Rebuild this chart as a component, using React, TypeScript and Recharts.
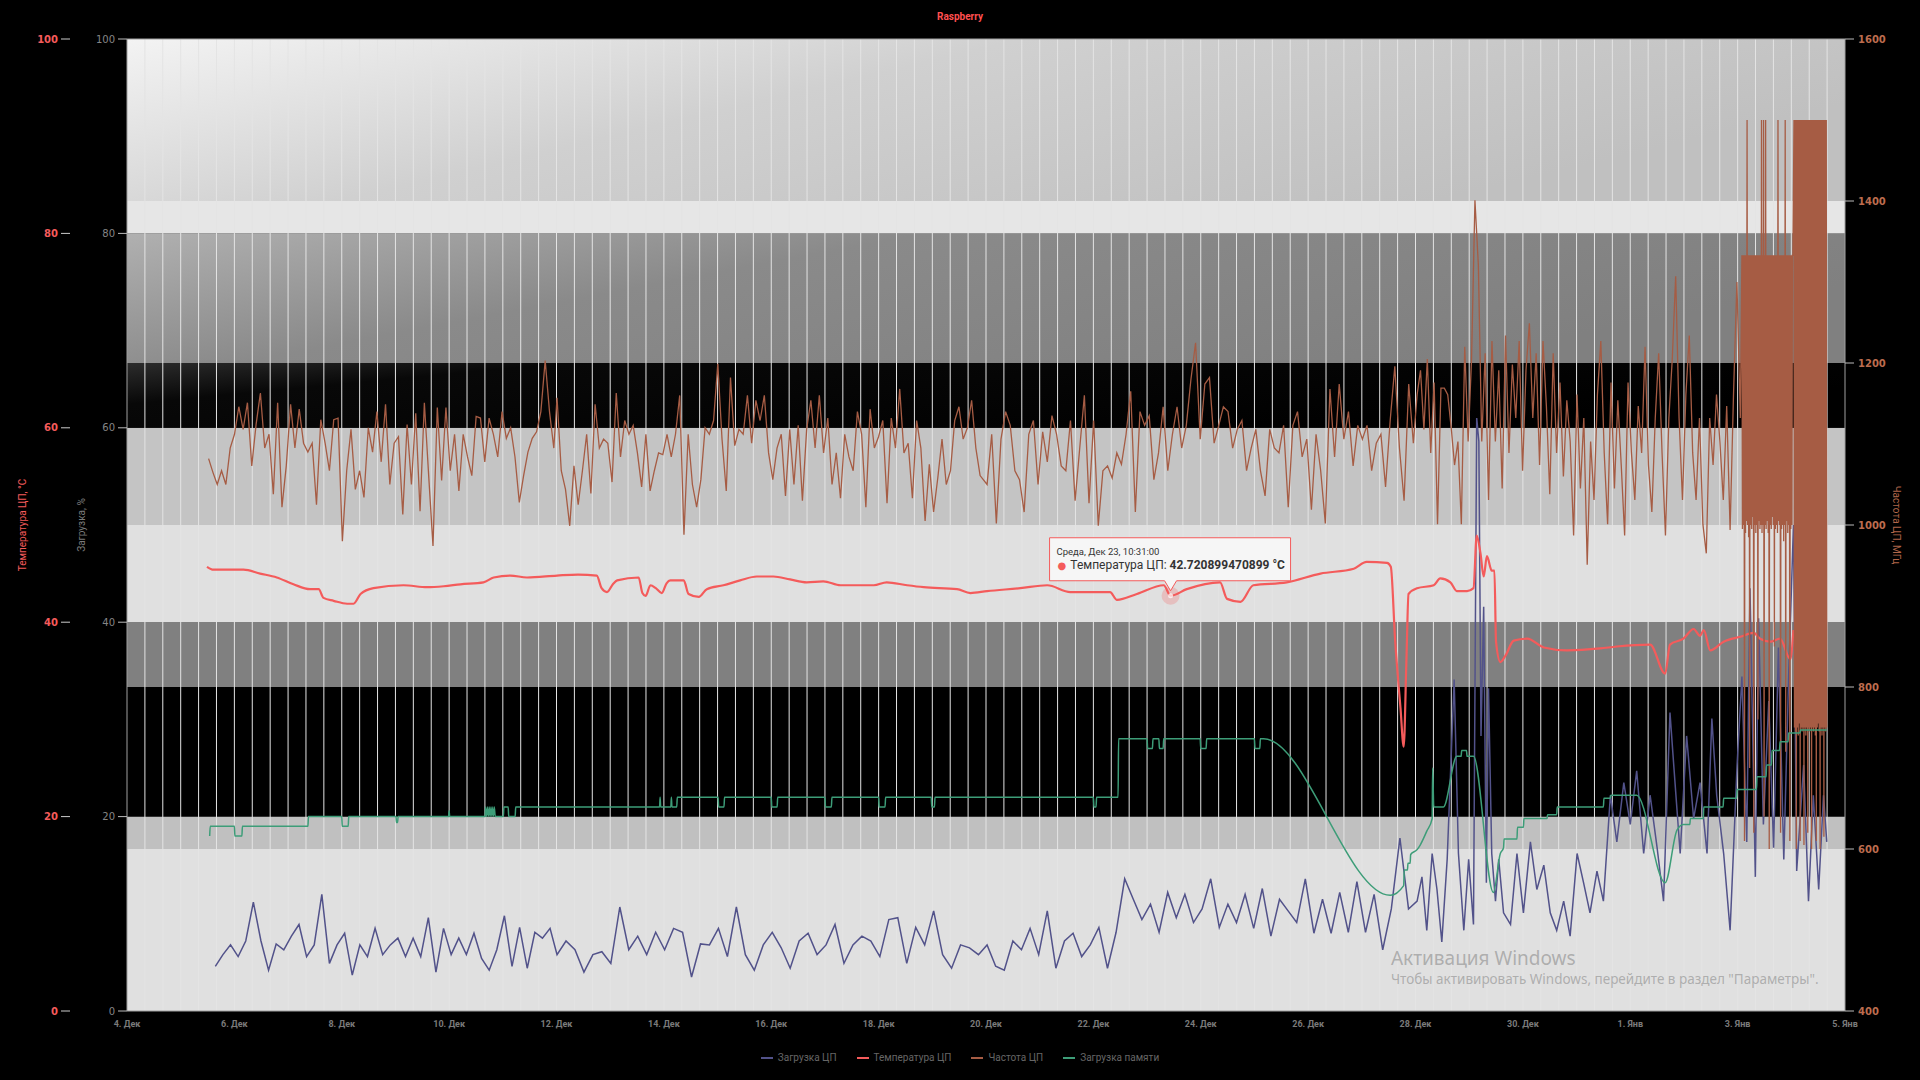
import React from "react";
import {
  Legend,
  Line,
  LineChart,
  ReferenceArea,
  ReferenceDot,
  ReferenceLine,
  XAxis,
  YAxis,
} from "recharts";

// x = days since 4 Dec 00:00
const X_TICKS = [0, 2, 4, 6, 8, 10, 12, 14, 16, 18, 20, 22, 24, 26, 28, 30, 32];
const X_LABELS = [
  "4. Дек", "6. Дек", "8. Дек", "10. Дек", "12. Дек", "14. Дек", "16. Дек", "18. Дек", "20. Дек",
  "22. Дек", "24. Дек", "26. Дек", "28. Дек", "30. Дек", "1. Янв", "3. Янв", "5. Янв",
];
const PCT_TICKS = [0, 20, 40, 60, 80, 100];
const MHZ_TICKS = [400, 600, 800, 1000, 1200, 1400, 1600];
// minor vertical grid every 8 hours
const GRID_TICKS = Array.from({ length: 95 }, (_, i) => (i + 1) / 3);

const SERIES_NAMES = ["Загрузка ЦП", "Температура ЦП", "Частота ЦП", "Загрузка памяти"];

// CPU load, % (evenly sampled segments + last chaotic part as [day, value])
const LOAD_1 = [4.6, 5.8, 6.8, 5.6, 7.2, 11.2, 7.2, 4.2, 6.9, 6.3, 7.7, 8.9, 5.6, 6.8, 12.0, 4.9, 6.8, 8.0, 3.7, 6.8, 5.6, 8.5, 5.8, 6.8, 7.5, 5.6, 7.5, 5.6, 9.6, 4.0, 8.5, 5.8, 7.5, 5.8, 8.0, 5.4, 4.2, 6.3, 9.8, 4.6, 8.6, 4.4, 8.1, 7.5, 8.5];
const LOAD_2 = [5.8, 7.2, 6.3, 4.0, 5.8, 6.1, 4.9, 10.7, 6.3, 7.7, 5.8, 8.1, 6.3, 8.5, 8.1, 3.5, 6.9, 6.8, 8.5, 5.6, 10.7, 5.8, 4.2, 6.8, 8.1, 6.5, 4.4, 7.2, 8.0, 5.8, 6.8, 8.9, 4.9, 6.8, 7.7, 7.2, 5.6, 9.4, 9.6, 4.9, 8.6, 6.8, 10.3, 5.8, 4.4, 6.8, 6.5, 5.8];
const LOAD_3 = [6.8, 4.6, 4.2, 7.2, 6.3, 8.5, 5.8, 10.3, 4.4, 7.2, 8.0, 5.6, 6.8, 8.6, 4.4, 8.1, 13.6, 11.5, 9.4, 11.0, 8.1, 12.2, 9.6, 12.0, 9.1, 10.5, 13.6, 8.6, 11.0, 9.1, 12.0, 8.5, 12.6, 7.7, 11.5, 10.3, 9.1, 13.6, 8.0, 11.5, 8.0, 12.2, 8.1, 13.3, 8.1, 12.0, 6.3, 10.5, 17.8, 10.5];
const LOAD_4 = [
  [24.03, 11.3], [24.12, 13.8], [24.21, 8.3], [24.31, 16.2], [24.4, 12.5], [24.49, 7.1], [24.59, 15.6], [24.72, 34.1],
  [24.8, 16.2], [24.9, 8.3], [24.99, 15.6], [25.08, 8.9], [25.14, 61], [25.18, 58.6], [25.22, 28.3], [25.27, 41.6],
  [25.32, 13.2], [25.36, 33.2], [25.42, 16.2], [25.49, 11.3], [25.55, 15.6], [25.64, 10.1], [25.77, 8.9], [25.89, 16.2],
  [26.01, 10.1], [26.14, 17.4], [26.26, 12.5], [26.39, 15.0], [26.51, 10.1], [26.63, 8.3], [26.76, 11.3], [26.88, 7.7],
  [27.01, 16.2], [27.13, 13.2], [27.25, 10.1], [27.38, 14.4], [27.5, 11.3], [27.63, 22.2], [27.75, 17.4], [27.88, 23.5],
  [28.0, 19.2], [28.12, 24.7], [28.25, 16.2], [28.37, 22.2], [28.5, 16.8], [28.62, 11.3], [28.74, 30.7], [28.81, 25.3],
  [28.93, 16.2], [29.05, 28.3], [29.18, 19.8], [29.3, 23.5], [29.43, 16.2], [29.52, 30.1], [29.61, 22.2], [29.74, 16.2],
  [29.86, 8.3], [29.99, 25.3], [30.08, 34.4], [30.17, 17.4], [30.23, 43.5], [30.33, 13.8], [30.39, 40.4], [30.48, 19.2],
  [30.58, 31.9], [30.67, 16.8], [30.76, 37.4], [30.86, 15.6], [30.95, 34.4], [31.04, 50.0], [31.1, 14.4], [31.23, 25.3],
  [31.32, 11.3], [31.41, 22.2], [31.51, 12.5], [31.6, 22.2], [31.66, 17.4],
];

// CPU temperature, °C
const TEMP = [
  [1.49, 45.7], [1.61, 45.4], [2.17, 45.4], [2.48, 45.0], [2.79, 44.6], [3.1, 43.9], [3.41, 43.4], [3.57, 43.4],
  [3.66, 42.5], [3.85, 42.2], [4.1, 41.9], [4.22, 41.9], [4.35, 42.9], [4.59, 43.5], [5.15, 43.8], [5.59, 43.6],
  [5.9, 43.7], [6.21, 43.9], [6.64, 44.1], [6.83, 44.6], [7.14, 44.8], [7.45, 44.6], [8.01, 44.8], [8.4, 44.9],
  [8.75, 44.8], [8.84, 43.5], [8.94, 43.1], [9.05, 43.9], [9.13, 44.3], [9.53, 44.6], [9.6, 43.0], [9.66, 42.7],
  [9.75, 43.8], [9.85, 43.5], [9.96, 43.0], [10.05, 44.0], [10.12, 44.3], [10.37, 44.3], [10.46, 42.9], [10.65, 42.6],
  [10.8, 43.4], [11.11, 43.8], [11.42, 44.3], [11.73, 44.7], [12.04, 44.7], [12.35, 44.4], [12.66, 44.1], [12.97, 44.2],
  [13.29, 43.8], [13.91, 43.8], [14.15, 44.1], [14.53, 43.8], [14.84, 43.6], [15.46, 43.4], [15.71, 43.0], [16.02, 43.2],
  [16.64, 43.5], [17.14, 43.8], [17.57, 43.1], [18.31, 43.1], [18.44, 42.3], [18.81, 42.9], [19.31, 43.8], [19.438, 42.72],
  [19.74, 43.4], [20.36, 44.1], [20.49, 42.4], [20.74, 42.1], [20.98, 43.8], [21.6, 44.1], [22.23, 45.0], [22.85, 45.5],
  [23.09, 46.2], [23.47, 46.1], [23.54, 45.7], [23.62, 38.2], [23.72, 31.2], [23.78, 27.2], [23.83, 35.9], [23.87, 42.9],
  [24.03, 43.5], [24.34, 43.8], [24.46, 44.5], [24.65, 44.1], [24.77, 43.2], [24.96, 43.2], [25.08, 43.5], [25.14, 48.9],
  [25.21, 47.1], [25.27, 44.7], [25.33, 46.8], [25.42, 45.3], [25.47, 45.3], [25.5, 38.0], [25.58, 35.9], [25.67, 36.5],
  [25.83, 38.1], [26.08, 38.3], [26.39, 37.4], [26.82, 37.1], [27.44, 37.3], [27.75, 37.5], [28.37, 37.7], [28.65, 34.7],
  [28.74, 37.7], [28.99, 38.3], [29.18, 39.3], [29.3, 38.6], [29.37, 39.2], [29.49, 37.1], [29.74, 38.0], [30.05, 38.5],
  [30.3, 38.9], [30.42, 38.3], [30.61, 38.0], [30.79, 38.3], [30.98, 36.2], [31.04, 39.2],
];

// CPU frequency, MHz
const FREQ_1 = [1082, 1065, 1050, 1067, 1050, 1095, 1112, 1146, 1118, 1151, 1073, 1124, 1163, 1095, 1112, 1038, 1151, 1022, 1073, 1149, 1095, 1143, 1101, 1090, 1101, 1025, 1130, 1101, 1067, 1130, 1132, 980, 1067, 1118, 1044, 1067, 1034, 1120, 1090, 1140, 1078, 1149, 1050, 1101, 1109, 1013, 1124, 1050, 1138, 1017, 1151, 1061, 974, 1145, 1055, 1145, 1067, 1112, 1042, 1112, 1084, 1061, 1134, 1132, 1078, 1132, 1112, 1084, 1140, 1107, 1120, 1084, 1028, 1061, 1090, 1107, 1115, 1140, 1203, 1140, 1095];
const FREQ_2 = [1157, 1067, 1044, 999, 1073, 1025, 1067, 1112, 1039, 1149, 1095, 1106, 1101, 1053, 1163, 1084, 1129, 1112, 1123, 1089, 1047, 1112, 1042, 1067, 1089, 1087, 1112, 1084, 1112, 1160, 988, 1112, 1050, 1022, 1056, 1120, 1112, 1129, 1199, 1106, 1042, 1182, 1098, 1118, 1112, 1160, 1101, 1154, 1129, 1160, 1089, 1056, 1095, 1112, 1036, 1118, 1050, 1123, 1030, 1118, 1154, 1095, 1160, 1089, 1132, 1050, 1089, 1033, 1112, 1084, 1067, 1140, 1112, 1022, 1143, 1095, 1109, 1129, 1027, 1132, 1095, 1168, 1089, 1101, 1033, 1129, 1095, 1005, 1075, 1016, 1058, 1106, 1050, 1067, 1129, 1146, 1106, 1120, 1154, 1095, 1061];
const FREQ_3 = [1050, 1112, 1002, 1106, 1140, 1123, 1067, 1056, 1016, 1112, 1129, 1050, 1115, 1078, 1135, 1112, 1073, 1067, 1129, 1030, 1095, 1160, 1027, 1129, 999, 1067, 1073, 1058, 1089, 1075, 1112, 1165, 1016, 1140, 1123, 1135, 1056, 1089, 1146, 1067, 1112, 1146, 1095, 1123, 1180, 1225, 1106, 1174, 1182, 1101, 1123, 1146, 1140, 1095, 1118, 1129, 1067, 1095, 1118, 1067, 1036, 1118, 1095, 1089, 1123, 1022, 1123, 1140, 1084, 1106, 1019, 1112, 1067, 1002, 1168, 1084, 1174, 1106, 1140, 1073, 1123, 1106, 1123, 1067, 1101, 1112, 1047, 1129, 1196, 1095, 1030, 1174, 1101];
const FREQ_4 = [1161, 1191, 1118, 1205, 1089, 1176, 1001, 1169, 1169, 1161, 1121, 1074, 1103, 1001, 1220, 1103, 1205, 1401, 1321, 1103, 1212, 1031, 1227, 1103, 1191, 1045, 1234, 1089, 1198, 1132, 1227, 1067, 1191, 1249, 1132, 1212, 1074, 1227, 1147, 1038, 1212, 1089, 1176, 1060, 1154, 1103, 987, 1161, 1045, 1132, 951, 1103, 1031, 1161, 1227, 1089, 1001, 1176, 1045, 1154, 1074, 987, 1176, 1089, 1031, 1147, 1089, 1220, 1074, 1016, 1132, 1212, 1089, 987, 1132, 1205, 1307, 1132, 1031, 1161, 1234, 1089, 1031, 1132, 1001, 965, 1132, 1074, 1161, 1103, 1031, 1147, 994, 1161, 1300, 1132];
const FREQ_5 = [
  1333, 995, 1333, 1000, 1333, 610, 1333, 990, 1333, 1005, 1500, 1000, 1333, 985, 1333, 700, 1333, 1000, 1333, 995,
  1333, 1010, 1333, 620, 1333, 1000, 1333, 990, 1333, 1000, 1333, 760, 1333, 1005, 1333, 995, 1333, 1000, 1500, 990,
  1333, 1000, 1500, 640, 1333, 1000, 1500, 995, 1333, 1005, 1333, 990, 1333, 600, 1333, 1000, 1333, 995, 1333, 1010,
  1333, 1000, 1333, 850, 1333, 995, 1333, 1000, 1333, 990, 1500, 1005, 1333, 1000, 1333, 620, 1333, 995, 1333, 1000,
  1333, 980, 1333, 1000, 1500, 720, 1333, 1005, 1333, 990, 1333, 1000, 1333, 610, 1333, 995, 1333, 1000, 1333, 1333,
];
const FREQ_6 = [
  1500, 750, 1500, 745, 1500, 600, 1500, 750, 1500, 740, 1500, 755, 1500, 610, 1500, 750, 1500, 745, 1500, 750,
  1500, 605, 1500, 750, 1500, 740, 1500, 750, 1500, 620, 1500, 750, 1500, 745, 1500, 750, 1500, 600, 1500, 750,
  1500, 745, 1500, 750, 1500, 740, 1500, 610, 1500, 750, 1500, 755, 1500, 745, 1500, 600, 1500, 750, 1500, 740,
  1500, 750, 1500, 615, 1500, 750, 1500, 745, 1500, 750,
];

// memory load, %
const MEM = [
  [1.54, 18.0], [1.55, 19.0], [2.0, 19.0], [2.01, 18.0], [2.14, 18.0], [2.15, 19.0], [3.37, 19.0], [3.38, 20.0],
  [4.0, 20.0], [4.01, 19.0], [4.12, 19.0], [4.13, 20.0], [5.01, 20.0], [5.02, 19.4], [5.04, 19.4], [5.05, 20.0],
  [5.99, 20.0], [6.0, 20.6], [6.01, 20.0], [6.67, 20.0], [6.68, 21.0], [6.7, 20.0], [6.72, 21.0], [6.74, 20.0],
  [6.76, 21.0], [6.78, 20.0], [6.8, 21.0], [6.82, 20.0], [6.84, 21.0], [6.86, 20.0], [7.01, 20.0], [7.02, 21.0],
  [7.1, 21.0], [7.11, 20.0], [7.23, 20.0], [7.24, 21.0], [9.92, 21.0], [9.93, 22.0], [9.94, 21.0], [10.13, 21.0],
  [10.14, 22.0], [10.15, 21.0], [10.24, 21.0], [10.25, 22.0], [11.01, 22.0], [11.02, 21.0], [11.12, 21.0], [11.13, 22.0],
  [12.0, 22.0], [12.01, 21.0], [12.11, 21.0], [12.12, 22.0], [13.0, 22.0], [13.01, 21.0], [13.12, 21.0], [13.13, 22.0],
  [14.0, 22.0], [14.01, 21.0], [14.12, 21.0], [14.13, 22.0], [14.98, 22.0], [14.99, 21.0], [15.04, 21.0], [15.05, 22.0],
  [18.0, 22.0], [18.01, 21.0], [18.05, 21.0], [18.06, 22.0], [18.46, 22.0], [18.47, 28.0], [19.0, 28.0], [19.01, 27.0],
  [19.1, 27.0], [19.11, 28.0], [19.22, 28.0], [19.23, 27.0], [19.3, 27.0], [19.31, 28.0], [19.99, 28.0], [20.0, 27.0],
  [20.1, 27.0], [20.11, 28.0], [21.0, 28.0], [21.01, 27.0], [21.1, 27.0], [21.11, 28.0], [21.17, 28.0], [23.53, 11.9],
  [23.78, 12.9], [23.79, 14.5], [23.85, 14.5], [23.86, 15.2], [23.9, 15.2], [23.91, 16.1], [24.03, 16.6], [24.09, 17.1],
  [24.21, 18.5], [24.31, 19.8], [24.32, 25.0], [24.34, 21.0], [24.52, 21.0], [24.77, 26.2], [24.85, 26.2], [24.86, 26.8],
  [24.95, 26.8], [24.96, 26.2], [25.08, 26.2], [25.45, 12.2], [25.58, 16.2], [25.64, 16.8], [25.65, 17.7], [25.89, 17.7],
  [25.9, 18.9], [26.01, 18.9], [26.02, 19.8], [26.45, 19.8], [26.46, 20.2], [26.63, 20.2], [26.64, 21.0], [27.5, 21.0],
  [27.51, 21.9], [27.63, 21.9], [27.64, 22.2], [28.12, 22.2], [28.65, 13.2], [28.87, 18.6], [28.99, 19.2], [29.11, 19.2],
  [29.12, 19.8], [29.36, 19.8], [29.37, 21.0], [29.73, 21.0], [29.74, 21.9], [29.98, 21.9], [29.99, 22.8], [30.35, 22.8],
  [30.36, 24.1], [30.53, 24.1], [30.54, 25.3], [30.63, 25.3], [30.64, 26.8], [30.78, 26.8], [30.79, 27.7], [30.94, 27.7],
  [30.95, 28.6], [31.16, 28.6], [31.17, 28.9], [31.66, 28.9],
];

const TOOLTIP_TIME = "Среда, Дек 23, 10:31:00";
const TOOLTIP_X = 19.438;
const TOOLTIP_VALUE = 42.720899470899;

const LOAD_COLOR = "#52528a";
const TEMP_COLOR = "#f45b5b";
const FREQ_COLOR = "#a65c44";
const MEM_COLOR = "#3d9d78";
const FONT = "Roboto, 'DejaVu Sans', sans-serif";

type Pt = { x: number; y: number };
const spread = (from: number, to: number, values: number[]): Pt[] =>
  values.map((y, i) => ({ x: from + ((to - from) * i) / (values.length - 1), y }));
const pairs = (rows: number[][]): Pt[] => rows.map(([x, y]) => ({ x, y }));

const loadData = [
  ...spread(1.645, 7.88, LOAD_1),
  ...spread(8.01, 15.86, LOAD_2),
  ...spread(16.02, 23.87, LOAD_3),
  ...pairs(LOAD_4),
];
const tempData = pairs(TEMP);
const freqData = [
  ...spread(1.52, 7.95, FREQ_1),
  ...spread(8.01, 15.89, FREQ_2),
  ...spread(16.02, 23.96, FREQ_3),
  ...spread(24.03, 30.05, FREQ_4),
  ...spread(30.08, 31.03, FREQ_5),
  ...spread(31.05, 31.66, FREQ_6),
];
const memData = pairs(MEM);

// background bands on the % scale (edges at 600/800/1000/1200/1400 MHz fall on the thirds)
const BANDS = [
  { y1: 0, y2: 16.667, fill: "#e0e0e0" },
  { y1: 16.667, y2: 20, fill: "#c0c0c0" },
  { y1: 20, y2: 33.333, fill: "#000000" },
  { y1: 33.333, y2: 40, fill: "#808080" },
  { y1: 40, y2: 50, fill: "#e0e0e0" },
  { y1: 50, y2: 60, fill: "#c4c4c4" },
  { y1: 60, y2: 66.667, fill: "url(#bandDark)" },
  { y1: 66.667, y2: 80, fill: "url(#bandGray)" },
  { y1: 80, y2: 83.333, fill: "#e6e6e6" },
  { y1: 83.333, y2: 100, fill: "url(#bandLight)" },
];

function TooltipMark(props: any) {
  const { cx, cy } = props;
  if (cx == null || cy == null) return null;
  const l = cx - 121;
  const r = cx + 120;
  const t = cy - 58;
  const b = cy - 15;
  return (
    <g>
      <circle cx={cx} cy={cy} r={9} fill={TEMP_COLOR} fillOpacity={0.25} />
      <circle cx={cx} cy={cy} r={2.5} fill="#ffffff" fillOpacity={0.7} />
      <path
        d={`M${l},${t}H${r}V${b}H${cx + 6}L${cx},${cy - 5}L${cx - 6},${b}H${l}Z`}
        fill="#f7f7f7"
        fillOpacity={0.92}
        stroke={TEMP_COLOR}
        strokeWidth={1}
      />
      <text x={l + 7} y={t + 17} fontSize={9.5} fill="#333" fontFamily={FONT}>
        {TOOLTIP_TIME}
      </text>
      <text x={l + 8} y={t + 31} fontSize={12} fill="#333" fontFamily={FONT}>
        <tspan fill={TEMP_COLOR} fontSize={10}>●</tspan>
        <tspan dx={4}>Температура ЦП: </tspan>
        <tspan fontWeight="bold">{`${TOOLTIP_VALUE} °C`}</tspan>
      </text>
    </g>
  );
}

function LegendRow(props: any) {
  const items = [...(props.payload ?? [])].sort(
    (a: any, b: any) => SERIES_NAMES.indexOf(a.value) - SERIES_NAMES.indexOf(b.value),
  );
  return (
    <div
      style={{
        display: "flex",
        justifyContent: "center",
        gap: 20,
        fontFamily: FONT,
        fontSize: 10,
        color: "#666",
      }}
    >
      {items.map((e: any) => (
        <span key={e.value} style={{ display: "inline-flex", alignItems: "center" }}>
          <span
            style={{ display: "inline-block", width: 12, height: 2, background: e.color, marginRight: 5 }}
          />
          {e.value}
        </span>
      ))}
    </div>
  );
}

export default function App() {
  return (
    <div style={{ position: "relative", width: 1920, height: 1080, background: "#000", overflow: "hidden" }}>
      <style>{"body{margin:0;background:#000}"}</style>
      <div
        style={{
          position: "absolute",
          top: 11,
          left: 0,
          width: 1920,
          textAlign: "center",
          fontFamily: FONT,
          fontSize: 10,
          fontWeight: "bold",
          color: "#ff4f4f",
        }}
      >
        Raspberry
      </div>
      <LineChart width={1920} height={1080} margin={{ top: 39, right: 0, bottom: 0, left: 0 }}>
        <defs>
          <linearGradient id="bandLight" x1="0" y1="0" x2="1" y2="0.4">
            <stop offset="0" stopColor="#f3f3f3" />
            <stop offset="0.45" stopColor="#d0d0d0" />
            <stop offset="1" stopColor="#c0c0c0" />
          </linearGradient>
          <linearGradient id="bandGray" x1="0" y1="0" x2="1" y2="0.4">
            <stop offset="0" stopColor="#b0b0b0" />
            <stop offset="0.4" stopColor="#8a8a8a" />
            <stop offset="1" stopColor="#808080" />
          </linearGradient>
          <linearGradient id="bandDark" x1="0" y1="0" x2="1" y2="0.4">
            <stop offset="0" stopColor="#2c2c2c" />
            <stop offset="0.22" stopColor="#080808" />
            <stop offset="1" stopColor="#000000" />
          </linearGradient>
        </defs>

        {BANDS.map((b) => (
          <ReferenceArea
            key={b.y1}
            yAxisId="load"
            x1={0}
            x2={32}
            y1={b.y1}
            y2={b.y2}
            fill={b.fill}
            fillOpacity={1}
            stroke="none"
            zIndex={-200}
          />
        ))}

        {GRID_TICKS.map((t) => (
          <ReferenceLine
            key={t}
            x={t}
            yAxisId="load"
            stroke="#e4e4e4"
            strokeWidth={1}
            zIndex={-150}
          />
        ))}

        <XAxis
          dataKey="x"
          type="number"
          domain={[0, 32]}
          ticks={X_TICKS}
          interval={0}
          allowDataOverflow
          tickFormatter={(v: number) => X_LABELS[X_TICKS.indexOf(v)] ?? ""}
          height={69}
          axisLine={false}
          tickLine={false}
          tickSize={6}
          tickMargin={4}
          tick={{ fill: "#7a7a7a", fontSize: 9, fontWeight: "bold", fontFamily: FONT }}
        />
        <YAxis
          yAxisId="load"
          orientation="left"
          width={57}
          domain={[0, 100]}
          ticks={PCT_TICKS}
          interval={0}
          axisLine={false}
          tickLine={{ stroke: "#bbbbbb" }}
          tickSize={9}
          tickMargin={3}
          tick={{ fill: "#858585", fontSize: 10, fontFamily: "'DejaVu Sans', sans-serif" }}
          label={{
            value: "Загрузка, %",
            angle: -90,
            position: "insideLeft",
            offset: 11,
            fill: "#7a7a7a",
            fontSize: 10,
            fontFamily: FONT,
            style: { textAnchor: "middle" },
          }}
        />
        <YAxis
          yAxisId="temp"
          orientation="left"
          width={70}
          domain={[0, 100]}
          ticks={PCT_TICKS}
          interval={0}
          axisLine={false}
          tickLine={{ stroke: "#cccccc" }}
          tickSize={9}
          tickMargin={3}
          tick={{ fill: TEMP_COLOR, fontSize: 10, fontWeight: "bold", fontFamily: "'DejaVu Sans', sans-serif" }}
          label={{
            value: "Температура ЦП, °C",
            angle: -90,
            position: "insideLeft",
            offset: 22,
            fill: TEMP_COLOR,
            fontSize: 10,
            fontFamily: FONT,
            style: { textAnchor: "middle" },
          }}
        />
        <YAxis
          yAxisId="freq"
          orientation="right"
          width={75}
          domain={[400, 1600]}
          ticks={MHZ_TICKS}
          interval={0}
          axisLine={false}
          tickLine={{ stroke: "#bbbbbb" }}
          tickSize={9}
          tickMargin={4}
          tick={{ fill: "#bc6c4e", fontSize: 10, fontWeight: "bold", fontFamily: "'DejaVu Sans', sans-serif" }}
          label={{
            value: "Частота ЦП, МГц",
            angle: 90,
            position: "insideRight",
            offset: 23,
            fill: "#b0664a",
            fontSize: 10,
            fontFamily: FONT,
            style: { textAnchor: "middle" },
          }}
        />

        <ReferenceArea
          yAxisId="load"
          x1={0}
          x2={32}
          y1={0}
          y2={100}
          fill="none"
          stroke="#a0a0a0"
          strokeWidth={1}
        />

        <Line
          name={SERIES_NAMES[0]}
          data={loadData}
          dataKey="y"
          yAxisId="load"
          type="linear"
          stroke={LOAD_COLOR}
          strokeWidth={1.5}
          dot={false}
          activeDot={false}
          isAnimationActive={false}
        />
        <Line
          name={SERIES_NAMES[1]}
          data={tempData}
          dataKey="y"
          yAxisId="temp"
          type="monotone"
          stroke={TEMP_COLOR}
          strokeWidth={2.2}
          dot={false}
          activeDot={false}
          isAnimationActive={false}
        />
        <Line
          name={SERIES_NAMES[2]}
          data={freqData}
          dataKey="y"
          yAxisId="freq"
          type="linear"
          stroke={FREQ_COLOR}
          strokeWidth={1.3}
          dot={false}
          activeDot={false}
          isAnimationActive={false}
        />
        <Line
          name={SERIES_NAMES[3]}
          data={memData}
          dataKey="y"
          yAxisId="load"
          type="monotone"
          stroke={MEM_COLOR}
          strokeWidth={1.5}
          dot={false}
          activeDot={false}
          isAnimationActive={false}
        />

        <ReferenceDot
          x={TOOLTIP_X}
          y={TOOLTIP_VALUE}
          yAxisId="temp"
          r={9}
          shape={TooltipMark}
          zIndex={3000}
        />

        <Legend
          verticalAlign="middle"
          align="center"
          layout="horizontal"
          content={LegendRow}
          wrapperStyle={{ top: 1052, left: 0, width: 1920 }}
        />
      </LineChart>
      <div
        style={{
          position: "absolute",
          left: 1391,
          top: 946,
          fontFamily: "'Noto Sans', 'Open Sans', sans-serif",
          color: "rgba(130,130,130,0.55)",
          pointerEvents: "none",
          whiteSpace: "nowrap",
        }}
      >
        <div style={{ fontSize: 19, lineHeight: "24px" }}>Активация Windows</div>
        <div style={{ fontSize: 13.5, lineHeight: "18px" }}>
          Чтобы активировать Windows, перейдите в раздел "Параметры".
        </div>
      </div>
    </div>
  );
}
